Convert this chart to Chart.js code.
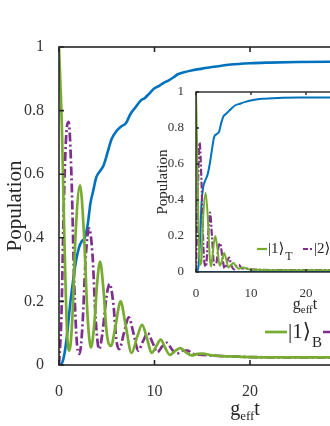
<!DOCTYPE html>
<html><head><meta charset="utf-8">
<script src="https://cdn.jsdelivr.net/npm/chart.js@4/dist/chart.umd.min.js"></script>
<style>
html,body{margin:0;padding:0;background:#fff;overflow:hidden;width:330px;height:426px;}
#main{position:absolute;left:0;top:0;}
#inset{position:absolute;left:150px;top:80px;}
</style></head><body>
<canvas id="main" width="460" height="426"></canvas>
<canvas id="inset" width="290" height="250"></canvas>
<script>
// ---------- data ----------
const xTicks = [0, 10, 20, 30, 40];
const yTicks = [0, 0.2, 0.4, 0.6, 0.8, 1];

// main panel
const mainBlueT = [0,0.3,0.6,0.9,1.2,1.5,1.8,2.1,2.4,2.7,3.0,3.3,3.6,3.9,4.3,4.7,5.1,5.5,6.0,6.5,7.0,7.5,8.0,8.5,9.0,9.5,10,10.5,11,11.5,12,12.5,13,14,15,16,17,18,20,22,25,30,35,40];
const mainBlueP = [0,0.005,0.04,0.11,0.2,0.27,0.33,0.37,0.39,0.40,0.44,0.51,0.55,0.59,0.61,0.63,0.67,0.71,0.735,0.75,0.76,0.79,0.81,0.83,0.84,0.855,0.87,0.878,0.888,0.895,0.905,0.915,0.92,0.927,0.932,0.937,0.941,0.945,0.949,0.951,0.953,0.954,0.955,0.955];

const mainGreenT = [0,0.3,0.6,0.85,1.1,1.4,1.75,2.2,2.6,3.0,3.35,3.7,4.0,4.3,4.65,5.0,5.45,5.9,6.45,6.95,7.6,8.2,8.7,9.2,9.7,10.2,10.65,11.1,11.6,12.2,12.7,13.3,13.9,14.5,15,16,17,18,20,25,30,40];
const mainGreenP = [1.0,0.75,0.35,0.1,0.045,0.15,0.42,0.565,0.42,0.15,0.055,0.13,0.26,0.325,0.24,0.1,0.06,0.12,0.2,0.13,0.038,0.09,0.126,0.085,0.038,0.06,0.08,0.055,0.032,0.045,0.053,0.04,0.03,0.035,0.036,0.03,0.028,0.027,0.025,0.024,0.024,0.024];

const mainPurpleT = [0,0.25,0.5,0.75,1.0,1.3,1.6,1.9,2.15,2.45,2.8,3.15,3.5,3.85,4.2,4.55,4.95,5.3,5.7,6.0,6.3,6.8,7.3,7.8,8.3,8.8,9.3,9.8,10.3,10.8,11.3,11.8,12.3,13,13.5,14,15,16,17,18,20,25,30,40];
const mainPurpleP = [0,0.15,0.5,0.72,0.765,0.6,0.25,0.06,0.035,0.12,0.34,0.43,0.35,0.14,0.05,0.1,0.21,0.255,0.19,0.08,0.05,0.1,0.15,0.1,0.045,0.075,0.1,0.07,0.04,0.058,0.07,0.05,0.035,0.045,0.045,0.035,0.032,0.03,0.028,0.027,0.025,0.024,0.024,0.024];

// inset panel
const insetBlueT = [0,0.4,0.7,1.0,1.3,1.7,2.1,2.5,2.9,3.3,3.7,4.2,4.6,5.0,5.5,6.0,6.5,7.1,8,9,10.4,12,15,20,30,40];
const insetBlueP = [0,0.02,0.15,0.38,0.47,0.51,0.54,0.6,0.68,0.75,0.765,0.78,0.83,0.865,0.88,0.895,0.91,0.925,0.935,0.945,0.955,0.962,0.967,0.969,0.97,0.97];

const insetGreenT = [0,0.2,0.45,0.7,0.95,1.3,1.75,2.15,2.5,2.75,3.1,3.5,3.9,4.3,4.7,5.1,5.5,5.9,6.4,6.8,7.3,7.8,8.5,9.5,11,14,20,40];
const insetGreenP = [1,0.7,0.25,0.04,0.05,0.3,0.44,0.3,0.08,0.03,0.12,0.2,0.13,0.035,0.06,0.105,0.07,0.025,0.04,0.05,0.03,0.018,0.025,0.015,0.012,0.01,0.01,0.01];

const insetPurpleT = [0,0.3,0.65,1.0,1.4,1.8,2.2,2.55,2.9,3.3,3.7,4.1,4.4,4.8,5.2,5.6,6.0,6.4,6.9,7.4,7.8,8.3,9,10,12,15,20,40];
const insetPurpleP = [0,0.4,0.72,0.5,0.1,0.03,0.2,0.33,0.2,0.04,0.05,0.14,0.16,0.08,0.02,0.05,0.08,0.04,0.015,0.035,0.04,0.02,0.02,0.015,0.012,0.01,0.01,0.01];

const insetZeroT = [0, 40];
const insetZeroP = [0, 0];

const mainLegendKets = ['|1⟩', '|2⟩'];
const mainLegendSubs = ['B', 'B'];
const insetLegendKets = ['|1⟩', '|2⟩'];
const insetLegendSubs = ['T', 'T'];

// ---------- styling ----------
const SERIF = '"Liberation Serif","DejaVu Serif","Times New Roman",serif';
const BLUE = '#0072BD', GREEN = '#77AC30', PURPLE = '#7E2F8E', RED = '#FF0000', AX = '#262626';
const DASHDOT = [9, 3, 2, 3];

function pts(t, p) { return t.map((x, i) => ({x: x, y: p[i]})); }

function axesBox(tickLen, lw) {
  return {
    id: 'axesBox',
    beforeDraw(chart, args, opts) {
      if (!opts.fill) return;
      const {ctx, chartArea: a} = chart;
      ctx.save(); ctx.fillStyle = '#fff';
      ctx.fillRect(a.left, a.top, a.right - a.left, a.bottom - a.top);
      ctx.restore();
    },
    afterDatasetsDraw(chart) {
      const {ctx, chartArea: a, scales: {x, y}} = chart;
      ctx.save();
      ctx.strokeStyle = AX; ctx.lineWidth = lw;
      ctx.strokeRect(a.left, a.top, a.right - a.left, a.bottom - a.top);
      ctx.beginPath();
      x.ticks.forEach(t => {
        const px = x.getPixelForValue(t.value);
        ctx.moveTo(px, a.bottom); ctx.lineTo(px, a.bottom - tickLen);
        ctx.moveTo(px, a.top); ctx.lineTo(px, a.top + tickLen);
      });
      y.ticks.forEach(t => {
        const py = y.getPixelForValue(t.value);
        ctx.moveTo(a.left, py); ctx.lineTo(a.left + tickLen, py);
        ctx.moveTo(a.right, py); ctx.lineTo(a.right - tickLen, py);
      });
      ctx.stroke();
      ctx.restore();
    }
  };
}

function labels(cfg) {
  return {
    id: 'labels',
    afterDraw(chart) {
      const {ctx, chartArea: a} = chart;
      ctx.save();
      ctx.fillStyle = AX;
      // y label
      ctx.save();
      ctx.translate(cfg.ylx, (a.top + a.bottom) / 2);
      ctx.rotate(-Math.PI / 2);
      ctx.font = cfg.yls + 'px ' + SERIF;
      ctx.textAlign = 'center'; ctx.textBaseline = 'middle';
      ctx.fillText('Population', 0, 0);
      ctx.restore();
      // x label g_eff t
      const big = cfg.xls + 'px ' + SERIF, small = cfg.xss + 'px ' + SERIF;
      ctx.font = big; const wg = ctx.measureText('g').width, wt = ctx.measureText('t').width;
      ctx.font = small; const we = ctx.measureText('eff').width;
      let x0 = cfg.xlc - (wg + we + wt) / 2;
      ctx.textAlign = 'left'; ctx.textBaseline = 'alphabetic';
      ctx.font = big; ctx.fillText('g', x0, cfg.xlb);
      ctx.font = small; ctx.fillText('eff', x0 + wg, cfg.xlb + cfg.subOff);
      ctx.font = big; ctx.fillText('t', x0 + wg + we, cfg.xlb);
      // legend
      const L = cfg.legend;
      const colors = [GREEN, PURPLE], dashes = [[], L.dash];
      for (let i = 0; i < L.kets.length; i++) {
        let lx = L.xs[i];
        ctx.save();
        ctx.strokeStyle = colors[i]; ctx.lineWidth = L.lw; ctx.setLineDash(dashes[i]);
        ctx.beginPath(); ctx.moveTo(lx, L.y); ctx.lineTo(lx + L.len, L.y); ctx.stroke();
        ctx.restore();
        lx += L.len + 1;
        ctx.font = L.fs + 'px ' + SERIF; ctx.textBaseline = 'middle'; ctx.textAlign = 'left';
        ctx.fillText(L.kets[i], lx, L.y);
        lx += ctx.measureText(L.kets[i]).width + 1;
        ctx.font = L.ss + 'px ' + SERIF; ctx.textBaseline = 'alphabetic';
        ctx.fillText(L.subs[i], lx, L.y + L.subOff);
      }
      ctx.restore();
    }
  };
}

function lineDs(label, t, p, color, w, dash) {
  return {label: label, data: pts(t, p), borderColor: color, borderWidth: w, borderDash: dash || [],
    pointRadius: 0, fill: false, cubicInterpolationMode: 'monotone', borderCapStyle: 'butt', borderJoinStyle: 'round'};
}

function scales(tickFont, xPad, yPad, xh, yw) {
  return {
    x: {type: 'linear', min: 0, max: 40, afterBuildTicks: s => { s.ticks = xTicks.map(v => ({value: v})); },
      ticks: {font: {family: SERIF, size: tickFont}, color: '#333', padding: xPad, maxRotation: 0, autoSkip: false},
      grid: {display: false}, border: {display: false}, afterFit: s => { s.height = xh; }},
    y: {type: 'linear', min: 0, max: 1, afterBuildTicks: s => { s.ticks = yTicks.map(v => ({value: v})); },
      ticks: {font: {family: SERIF, size: tickFont}, color: '#333', padding: yPad, autoSkip: false,
        callback: v => String(+v.toFixed(1))},
      grid: {display: false}, border: {display: false}, afterFit: s => { s.width = yw; }}
  };
}

// ---------- main chart ----------
new Chart(document.getElementById('main'), {
  type: 'line',
  data: {datasets: [
    lineDs('|1⟩_B', mainGreenT, mainGreenP, GREEN, 2.7),
    lineDs('|2⟩_B', mainPurpleT, mainPurpleP, PURPLE, 2.7, DASHDOT),
    lineDs('target', mainBlueT, mainBlueP, BLUE, 2.6)
  ]},
  options: {
    responsive: false, animation: false, devicePixelRatio: 1,
    layout: {padding: {top: 47, left: 0, right: 19, bottom: 0}},
    plugins: {legend: {display: false}, tooltip: {enabled: false}, axesBox: {fill: false}},
    scales: scales(16, 9, 7, 61, 59)
  },
  plugins: [axesBox(5, 1.6), labels({ylx: 15, yls: 21, xls: 20, xss: 13, xlb: 415, subOff: 5, xlc: 245,
    legend: {xs: [265, 323], y: 332, len: 22, lw: 2.7, fs: 21, ss: 15, subOff: 15, dash: DASHDOT, kets: mainLegendKets, subs: mainLegendSubs}})]
});

// ---------- inset chart ----------
new Chart(document.getElementById('inset'), {
  type: 'line',
  data: {datasets: [
    lineDs('zero', insetZeroT, insetZeroP, BLUE, 2),
    lineDs('zero2', insetZeroT, insetZeroP, RED, 2, [2, 2]),
    lineDs('|1⟩_T', insetGreenT, insetGreenP, GREEN, 2),
    lineDs('|2⟩_T', insetPurpleT, insetPurpleP, PURPLE, 2.2, [7, 2, 2, 2]),
    lineDs('target', insetBlueT, insetBlueP, BLUE, 2)
  ]},
  options: {
    responsive: false, animation: false, devicePixelRatio: 1,
    layout: {padding: {top: 12, left: 0, right: 24, bottom: 0}},
    plugins: {legend: {display: false}, tooltip: {enabled: false}, axesBox: {fill: true}},
    scales: scales(13, 6, 4, 58, 46)
  },
  plugins: [axesBox(3, 1.4), labels({ylx: 13, yls: 15, xls: 16, xss: 11, xlb: 229, subOff: 4, xlc: 155,
    legend: {xs: [107, 153], y: 169, len: 10, lw: 2.2, fs: 15, ss: 12, subOff: 11, dash: [5, 2, 2, 2], kets: insetLegendKets, subs: insetLegendSubs}})]
});
</script>
</body></html>
